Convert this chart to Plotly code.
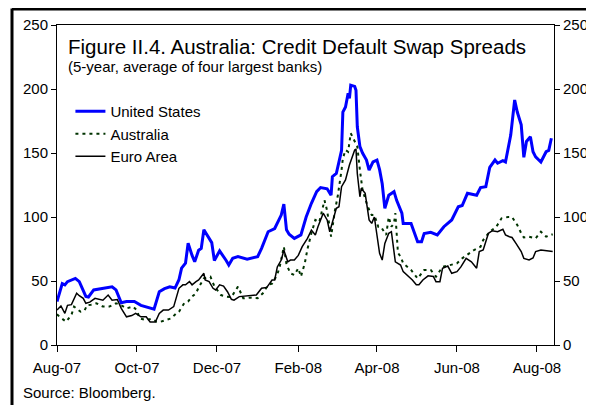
import plotly.graph_objects as go

FONT = "Liberation Sans, Arial, sans-serif"

# ---- data (basis points) ----
us_dates = ["2007-08-01","2007-08-05","2007-08-07","2007-08-09","2007-08-15","2007-08-18","2007-08-23","2007-08-25","2007-08-29",
            "2007-09-05","2007-09-12","2007-09-15","2007-09-19","2007-09-23","2007-09-29",
            "2007-10-04","2007-10-11","2007-10-14","2007-10-18","2007-10-22","2007-10-26","2007-10-30",
            "2007-11-02","2007-11-04","2007-11-07","2007-11-09","2007-11-12","2007-11-14","2007-11-17","2007-11-19","2007-11-21","2007-11-24","2007-11-27","2007-11-29",
            "2007-12-03","2007-12-08","2007-12-10","2007-12-13","2007-12-17","2007-12-24",
            "2008-01-01","2008-01-04","2008-01-09","2008-01-14","2008-01-16","2008-01-19","2008-01-21","2008-01-23","2008-01-25","2008-01-29",
            "2008-02-03","2008-02-07","2008-02-11","2008-02-15","2008-02-18","2008-02-23","2008-02-26","2008-02-27",
            "2008-03-01","2008-03-05","2008-03-06","2008-03-08","2008-03-10","2008-03-11","2008-03-12","2008-03-15","2008-03-16","2008-03-17","2008-03-19","2008-03-21","2008-03-24","2008-03-26","2008-03-29",
            "2008-04-01","2008-04-03","2008-04-05","2008-04-07","2008-04-10","2008-04-14","2008-04-16","2008-04-20","2008-04-21","2008-04-27","2008-04-30",
            "2008-05-02","2008-05-05","2008-05-07","2008-05-12","2008-05-17","2008-05-22","2008-05-28",
            "2008-06-02","2008-06-05","2008-06-09","2008-06-16","2008-06-19","2008-06-23","2008-06-26","2008-06-28","2008-06-30",
            "2008-07-02","2008-07-06","2008-07-08","2008-07-10","2008-07-12","2008-07-15","2008-07-17","2008-07-20","2008-07-21","2008-07-22","2008-07-24","2008-07-27","2008-07-29","2008-07-31",
            "2008-08-04","2008-08-08","2008-08-10","2008-08-12"]
us_values = [34,48,47,49.5,52,49.5,38,37.5,43,
             44.5,45.5,43,33,34,34,
             31,29,28,41.6,44,45.5,44.5,
             51,60,64,79.5,70,65,74,75.5,90,85,80,66,
             73.5,66,62.5,67.7,69,67,
             69,75.5,88.5,91,95,101.5,110,90,86.5,83.3,
             86,100,110.7,119.8,123,122,117,131.5,
             134,152,182,186,196.6,192.7,203,202,199,170.5,155,150,144.5,136.7,143,
             144.5,137,126,106.8,117,119.8,113,103,95,95,86,
             80.7,80.7,87,88,86,92.4,97.7,
             108,109,118.5,117,123,123.7,138.8,142,144.5,
             142,144,143,155,164,191.4,182,172,160,146.6,159,162.7,151,147,
             143,151,152,161.5]

au_dates = ["2007-08-01","2007-08-03","2007-08-08","2007-08-12","2007-08-14","2007-08-19","2007-08-22","2007-08-24","2007-08-27","2007-08-31",
            "2007-09-05","2007-09-10","2007-09-15","2007-09-19","2007-09-23","2007-09-28",
            "2007-10-01","2007-10-03","2007-10-08","2007-10-12","2007-10-16","2007-10-19","2007-10-23","2007-10-27","2007-10-31",
            "2007-11-02","2007-11-06","2007-11-09","2007-11-12","2007-11-15","2007-11-17","2007-11-21","2007-11-26","2007-11-29",
            "2007-12-04","2007-12-08","2007-12-12","2007-12-17","2007-12-21","2007-12-26",
            "2008-01-01","2008-01-05","2008-01-09","2008-01-12","2008-01-16","2008-01-18","2008-01-21","2008-01-23","2008-01-26","2008-01-29",
            "2008-02-01","2008-02-03","2008-02-06","2008-02-08","2008-02-11","2008-02-14","2008-02-17","2008-02-21","2008-02-23","2008-02-26","2008-02-29",
            "2008-03-02","2008-03-05","2008-03-06","2008-03-08","2008-03-10","2008-03-12","2008-03-15","2008-03-17","2008-03-19","2008-03-21","2008-03-25","2008-03-28","2008-03-30",
            "2008-04-02","2008-04-04","2008-04-08","2008-04-10","2008-04-12","2008-04-14","2008-04-15","2008-04-17","2008-04-19","2008-04-21","2008-04-27",
            "2008-05-02","2008-05-07","2008-05-12","2008-05-16","2008-05-21","2008-05-26",
            "2008-06-01","2008-06-05","2008-06-10","2008-06-14","2008-06-19","2008-06-21","2008-06-26",
            "2008-07-01","2008-07-05","2008-07-10","2008-07-13","2008-07-17","2008-07-20","2008-07-22","2008-07-26","2008-07-31",
            "2008-08-04","2008-08-08","2008-08-13"]
au_values = [24,22,18.2,23.4,30,26,27,31.2,31.5,32.6,
             30,30,32.6,31,28.6,30,
             27,20.8,19.5,20.5,18.2,18.2,19.5,20.8,24.7,
             26,32.6,34,37.8,40.4,45,52,53.4,46,
             39,37.8,37.5,45.6,36.5,37,
             36.5,40.4,47,48,55,62,76.8,63,56,54.7,
             60,53.4,64,75,87.3,97.7,96,113,105,84.6,105.5,
             115.8,136.7,145.8,152.3,151,165.4,159,155,136.7,121,108,101.5,101.5,
             92.4,92.4,86,100,92.4,95,103,72,69,63.8,58.6,
             52,58.6,58.6,53.4,61,62.5,
             63.8,67.7,71.6,74.2,76.8,82,88.5,
             92.4,99,100,100,93.7,87.3,84,84.6,83.3,
             88.5,84.6,86.5]

eu_dates = ["2007-08-01","2007-08-04","2007-08-07","2007-08-09","2007-08-12","2007-08-16","2007-08-18","2007-08-21","2007-08-23","2007-08-26","2007-08-30",
            "2007-09-05","2007-09-09","2007-09-12","2007-09-16","2007-09-19","2007-09-23","2007-09-27","2007-09-30",
            "2007-10-04","2007-10-08","2007-10-11","2007-10-15","2007-10-18","2007-10-21","2007-10-25","2007-10-29","2007-10-31",
            "2007-11-02","2007-11-05","2007-11-07","2007-11-10","2007-11-12","2007-11-15","2007-11-17","2007-11-21","2007-11-22","2007-11-25","2007-11-28","2007-11-30",
            "2007-12-03","2007-12-06","2007-12-09","2007-12-12","2007-12-14","2007-12-18","2007-12-26","2007-12-31",
            "2008-01-04","2008-01-08","2008-01-12","2008-01-14","2008-01-16","2008-01-19","2008-01-21","2008-01-24","2008-01-26","2008-01-29",
            "2008-02-01","2008-02-04","2008-02-08","2008-02-11","2008-02-14","2008-02-16","2008-02-20","2008-02-23","2008-02-25","2008-02-27",
            "2008-03-01","2008-03-03","2008-03-05","2008-03-08","2008-03-11","2008-03-15","2008-03-16","2008-03-17","2008-03-19","2008-03-20","2008-03-23","2008-03-26","2008-03-28","2008-03-30",
            "2008-04-03","2008-04-05","2008-04-07","2008-04-10","2008-04-12","2008-04-15","2008-04-19","2008-04-21","2008-04-25","2008-04-28",
            "2008-05-01","2008-05-03","2008-05-06","2008-05-10","2008-05-14","2008-05-16","2008-05-19","2008-05-21","2008-05-25","2008-05-28",
            "2008-06-01","2008-06-04","2008-06-08","2008-06-12","2008-06-16","2008-06-18","2008-06-21","2008-06-25","2008-06-28",
            "2008-07-02","2008-07-06","2008-07-08","2008-07-11","2008-07-13","2008-07-16","2008-07-20","2008-07-22","2008-07-26","2008-07-29","2008-07-31",
            "2008-08-04","2008-08-09","2008-08-13"]
eu_values = [27.3,30.5,24.7,31,31.5,40.4,38.5,36.5,32.6,33.5,36.5,
             35,39,35,35.5,28.6,22,23,24.7,
             22,22,18,18,24.7,27.3,27.3,30,37.8,
             44.3,47,47,49.5,47,49.5,50.8,56,50.8,49.5,44.3,43,
             47,46,41.6,35.7,35,37.8,38.3,39,
             44.3,45,50.8,50.8,61,66.4,74,65,66.4,66.4,
             70,76.8,83.3,89.8,86,92.4,103,97.7,88.5,96.3,
             106.8,108,123.7,129,140.6,152.3,153,134,115.8,122.4,118.5,97.7,95,100,
             71.6,66.4,79.4,87.3,88.5,65,62.5,57.3,53.4,50.8,
             47,47,50.8,54,53.5,49.5,49.5,60,61.7,56,
             57.3,61,67.7,65,60,73,74.2,87.3,89.3,
             88.5,90.4,86,84.6,84,79.4,73,67.7,66.4,68,73,
             74.2,73.4,73]

assert len(us_dates) == len(us_values)
assert len(au_dates) == len(au_values)
assert len(eu_dates) == len(eu_values)

tick_dates = ["2007-08-01","2007-10-01","2007-12-01","2008-02-01","2008-04-01","2008-06-01","2008-08-01"]
tick_labels = ["Aug-07","Oct-07","Dec-07","Feb-08","Apr-08","Jun-08","Aug-08"]
x_range = ["2007-08-01", "2008-08-14"]

title_text = "Figure II.4. Australia: Credit Default Swap Spreads"
subtitle_text = "(5-year, average of four largest banks)"
source_text = "Source: Bloomberg."

# page body has an 8px margin: figure is 586x397 so that it fills the 594x405 window
PW, PH = 497, 320          # plot area size in px
PL, PT = 49, 17            # plot area offset inside the figure

def px_x(x):  # window x -> paper x
    return (x - 57) / PW

def px_y(y):  # window y -> paper y
    return (345 - y) / PH

fig = go.Figure()
fig.add_trace(go.Scatter(x=us_dates, y=us_values, name="United States", mode="lines",
                         line=dict(color="#0000FF", width=3), legendgroup="a"))
fig.add_trace(go.Scatter(x=au_dates, y=au_values, name="Australia", mode="lines",
                         line=dict(color="#003300", width=2, dash="3px,4px"), legendgroup="b"))
fig.add_trace(go.Scatter(x=eu_dates, y=eu_values, name="Euro Area", mode="lines", yaxis="y2",
                         line=dict(color="#000000", width=1.5), legendgroup="c"))

axis_font = dict(family=FONT, size=15, color="black")
fig.update_layout(
    width=586, height=397,
    margin=dict(l=PL, r=586 - PL - PW, t=PT, b=397 - PT - PH, autoexpand=False),
    paper_bgcolor="white", plot_bgcolor="white",
    font=dict(family=FONT, size=15, color="black"),
    showlegend=True,
    legend=dict(x=0.027, y=px_y(95), xanchor="left", yanchor="top",
                bgcolor="rgba(0,0,0,0)", font=dict(family=FONT, size=15),
                tracegroupgap=0),
    xaxis=dict(type="date", range=x_range, tickvals=tick_dates, ticktext=tick_labels,
               showgrid=False, zeroline=False, showline=True, linecolor="black", linewidth=1,
               mirror=True, ticks="outside", ticklen=6, tickcolor="black", tickfont=axis_font,
               ticklabelstandoff=3),
    yaxis=dict(range=[0, 250], dtick=50, showgrid=False, zeroline=False, showline=True,
               linecolor="black", linewidth=1, ticks="outside", ticklen=5, tickcolor="black",
               tickfont=axis_font),
    yaxis2=dict(range=[0, 250], dtick=50, overlaying="y", side="right", showgrid=False,
                zeroline=False, showline=True, linecolor="black", linewidth=1, ticks="outside",
                ticklen=5, tickcolor="black", tickfont=axis_font),
)

fig.add_annotation(text=title_text, xref="paper", yref="paper", x=px_x(66), y=px_y(47),
                   xanchor="left", yanchor="middle", showarrow=False,
                   font=dict(family=FONT, size=20.5, color="black"))
fig.add_annotation(text=subtitle_text, xref="paper", yref="paper", x=px_x(66), y=px_y(67),
                   xanchor="left", yanchor="middle", showarrow=False,
                   font=dict(family=FONT, size=15, color="black"))
fig.add_annotation(text=source_text, xref="paper", yref="paper", x=px_x(21), y=px_y(392),
                   xanchor="left", yanchor="middle", showarrow=False,
                   font=dict(family=FONT, size=15, color="black"))

# outer frame (left and top edges)
fig.add_shape(type="line", xref="paper", yref="paper", x0=px_x(12), x1=px_x(12),
              y0=px_y(420), y1=px_y(8.5), line=dict(color="black", width=3))
fig.add_shape(type="line", xref="paper", yref="paper", x0=px_x(12), x1=px_x(600),
              y0=px_y(9), y1=px_y(9), line=dict(color="black", width=3))

fig.write_html("out.html")
